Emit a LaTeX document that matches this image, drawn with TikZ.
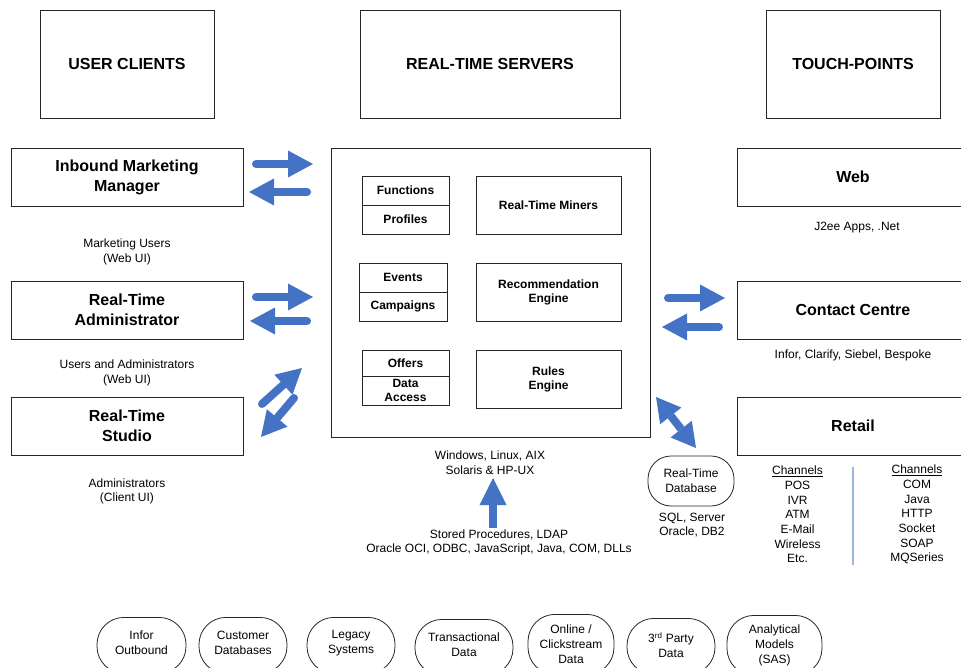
\documentclass[tikz,border=0pt]{standalone}
\usepackage{fontspec}
\setmainfont{Liberation Sans}
\usetikzlibrary{arrows.meta}
\definecolor{arrowblue}{HTML}{4472C4}
\definecolor{divblue}{HTML}{9DB5DE}
\definecolor{edge}{HTML}{262626}
\begin{document}
\begin{tikzpicture}[x=1pt,y=-1pt,
  box/.style={draw=edge, line width=0.8pt, rectangle, inner sep=0pt, align=center},
  headbox/.style={box, font=\fontsize{16}{20}\selectfont\bfseries},
  cellbox/.style={box, font=\fontsize{12}{14}\selectfont\bfseries},
  note/.style={align=center, inner sep=0pt, font=\fontsize{12}{14.5}\selectfont},
  chan/.style={align=center, inner sep=0pt, font=\fontsize{12}{14.7}\selectfont},
  srcbox/.style={draw=edge, line width=0.8pt, rounded corners=27pt, inner sep=0pt},
  dbbox/.style={draw=edge, line width=0.8pt, rounded corners=23pt, inner sep=0pt},
  srctext/.style={align=center, inner sep=0pt, font=\fontsize{12}{15}\selectfont},
  blockarrow/.style={draw=arrowblue, line width=8pt, line cap=round,
    -{Triangle[length=25pt,width=27pt,line width=0pt]}},
  bothways/.style={draw=arrowblue, line width=8pt,
    {Triangle[length=24pt,width=27pt,line width=0pt]}-{Triangle[length=24pt,width=27pt,line width=0pt]}},
  uparrow/.style={draw=arrowblue, line width=8pt, line cap=butt,
    -{Triangle[length=27pt,width=27pt,line width=0pt]}}
]
\useasboundingbox (0,0) rectangle (961,668);
\clip (0,0) rectangle (961,668);

% column headings
\node[headbox, minimum width=174, minimum height=108] (uc)  at (127,64) {USER CLIENTS};
\node[headbox, minimum width=260, minimum height=108] (rts) at (490,64) {REAL-TIME SERVERS};
\node[headbox, minimum width=174, minimum height=108] (tp)  at (853,64) {TOUCH-POINTS};

% user clients
\node[headbox, minimum width=232, minimum height=58] (imm) at (127,177) {Inbound Marketing\\Manager};
\node[headbox, minimum width=232, minimum height=58] (rta) at (127,310) {Real-Time\\Administrator};
\node[headbox, minimum width=232, minimum height=58] (rtst) at (127,426) {Real-Time\\Studio};
\node[note] (immnote) at (127,252) {Marketing Users\\(Web UI)};
\node[note] (rtanote) at (127,373) {Users and Administrators\\(Web UI)};
\node[note] (rtsnote) at (127,491.5) {Administrators\\(Client UI)};

% real-time server
\node[box, minimum width=319, minimum height=289] (srv) at (490.5,292.5) {};
\node[cellbox, minimum width=87, minimum height=29] (func) at (405.5,190.5) {Functions};
\node[cellbox, minimum width=87, minimum height=29] (prof) at (405.5,219.5) {Profiles};
\node[cellbox, minimum width=88, minimum height=29] (evt)  at (403,277.5) {Events};
\node[cellbox, minimum width=88, minimum height=29] (camp) at (403,306.5) {Campaigns};
\node[cellbox, minimum width=87, minimum height=26] (off)  at (405.5,363) {Offers};
\node[cellbox, minimum width=87, minimum height=29] (dacc) at (405.5,390.5) {Data\\Access};
\node[cellbox, minimum width=145, minimum height=58] (mine) at (548.5,205) {Real-Time Miners};
\node[cellbox, minimum width=145, minimum height=58] (reco) at (548.5,292) {Recommendation\\Engine};
\node[cellbox, minimum width=145, minimum height=58] (rule) at (548.5,379) {Rules\\Engine};
\node[note] (osnote) at (490,462.5) {Windows, Linux, AIX\\Solaris \& HP-UX};
\node[note] (ifnote) at (499,542.5) {Stored Procedures, LDAP\\Oracle OCI, ODBC, JavaScript, Java, COM, DLLs};

% database
\node[dbbox, minimum width=86, minimum height=50] (db) at (691,481) {};
\node[srctext] (dbtext) at (691,480.5) {Real-Time\\Database};
\node[note] (dbnote) at (692,525) {SQL, Server\\Oracle, DB2};

% touch-points
\node[headbox, minimum width=232, minimum height=58] (web) at (853,177) {Web};
\node[headbox, minimum width=232, minimum height=58] (cc)  at (853,310) {Contact Centre};
\node[headbox, minimum width=232, minimum height=58] (ret) at (853,426) {Retail};
\node[note] (webnote) at (857,227.5) {J2ee Apps, .Net};
\node[note] (ccnote)  at (853,355.5) {Infor, Clarify, Siebel, Bespoke};
\node[chan] (chl) at (797.5,514.5) {\underline{Channels}\\POS\\IVR\\ATM\\E-Mail\\Wireless\\Etc.};
\node[chan] (chr) at (917,514.5) {\underline{Channels}\\COM\\Java\\HTTP\\Socket\\SOAP\\MQSeries};
\draw[divblue, line width=1.2pt] (853,467) -- (853,565);

% data sources
\node[srcbox, minimum width=89, minimum height=56, anchor=north] (s1) at (141.5,617) {};
\node[srcbox, minimum width=88, minimum height=56, anchor=north] (s2) at (243,617) {};
\node[srcbox, minimum width=88, minimum height=56, anchor=north] (s3) at (351,617) {};
\node[srcbox, minimum width=98, minimum height=56, anchor=north] (s4) at (464,619) {};
\node[srcbox, minimum width=86, minimum height=60, anchor=north] (s5) at (571,614) {};
\node[srcbox, minimum width=88, minimum height=56, anchor=north] (s6) at (671,618) {};
\node[srcbox, minimum width=95, minimum height=60, anchor=north] (s7) at (774.5,615) {};
\node[srctext] (t1) at (141.5,643) {Infor\\Outbound};
\node[srctext] (t2) at (243,643) {Customer\\Databases};
\node[srctext] (t3) at (351,643) {Legacy\\Systems};
\node[srctext] (t4) at (464,645) {Transactional\\Data};
\node[srctext] (t5) at (571,644.5) {Online /\\Clickstream\\Data};
\node[srctext] (t6) at (671,645) {3\textsuperscript{rd} Party\\Data};
\node[srctext] (t7) at (774.5,645.5) {Analytical\\Models\\(SAS)};

% arrow end points
\coordinate (a1s) at (256,164); \coordinate (a1e) at (313,164);
\coordinate (a2s) at (307,192); \coordinate (a2e) at (249,192);
\coordinate (a3s) at (256,297); \coordinate (a3e) at (313,297);
\coordinate (a4s) at (307,321); \coordinate (a4e) at (250,321);
\coordinate (a5s) at (262,404); \coordinate (a5e) at (302,368);
\coordinate (a6s) at (294,398); \coordinate (a6e) at (261,437);
\coordinate (a7s) at (668,298); \coordinate (a7e) at (725,298);
\coordinate (a8s) at (719,327); \coordinate (a8e) at (662,327);
\coordinate (a9s) at (656,397); \coordinate (a9e) at (696,448);
\coordinate (a10s) at (493,528); \coordinate (a10e) at (493,478);

\draw[blockarrow] (a1s) -- (a1e);
\draw[blockarrow] (a2s) -- (a2e);
\draw[blockarrow] (a3s) -- (a3e);
\draw[blockarrow] (a4s) -- (a4e);
\draw[blockarrow] (a5s) -- (a5e);
\draw[blockarrow] (a6s) -- (a6e);
\draw[blockarrow] (a7s) -- (a7e);
\draw[blockarrow] (a8s) -- (a8e);
\draw[bothways] (a9s) -- (a9e);
\draw[uparrow] (a10s) -- (a10e);
\end{tikzpicture}
\end{document}
